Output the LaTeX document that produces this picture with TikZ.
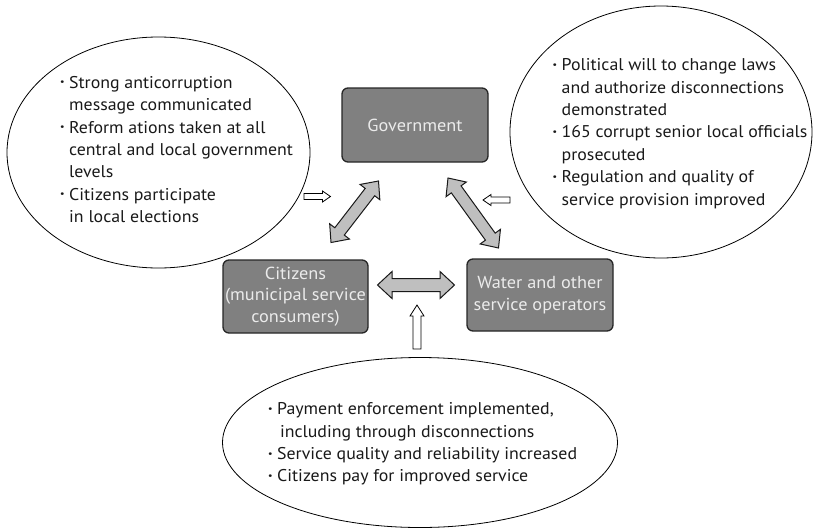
\documentclass[tikz,border=0pt]{standalone}
\usepackage{fontspec}
\setmainfont[FakeStretch=1.05]{PT Sans}
\usetikzlibrary{calc}
\begin{document}
\begin{tikzpicture}[x=1pt,y=-1pt,
  box/.style={draw=black!85,line width=1.3pt,fill=black!50,rounded corners=6pt,
    text=black!8,align=center,inner sep=0pt,font=\fontsize{17.4}{21.5}\selectfont},
  bubble/.style={draw=black,line width=0.8pt,fill=white},
  listtext/.style={align=left,inner sep=0pt,anchor=north west,text=black!90,font=\fontsize{17}{22.4}\selectfont},
  blockarrow/.style={draw=black!90,line width=1pt,fill=black!25,line join=miter},
  thinarrow/.style={draw=black,line width=0.8pt,fill=white,line join=miter}]
\newcommand\bul{\makebox[9pt][l]{\raisebox{0.5pt}{\bfseries ·}}}
\newcommand\ind{\hspace*{9pt}}
\newcommand\dblarrow[5]{%
  \coordinate (h1) at ($(#1)!#3!(#2)$);
  \coordinate (h2) at ($(#2)!#3!(#1)$);
  \draw[blockarrow] (#1) -- ($(h1)!#4!90:(#2)$) -- ($(h1)!#5!90:(#2)$)
    -- ($(h2)!#5!-90:(#1)$) -- ($(h2)!#4!-90:(#1)$) -- (#2)
    -- ($(h2)!#4!90:(#1)$) -- ($(h2)!#5!90:(#1)$)
    -- ($(h1)!#5!-90:(#2)$) -- ($(h1)!#4!-90:(#2)$) -- cycle;}
\newcommand\sglarrow[5]{% tail, tip, headlen, headhalf, shafthalf
  \coordinate (hh) at ($(#2)!#3!(#1)$);
  \draw[thinarrow] (#2) -- ($(hh)!#4!90:(#1)$) -- ($(hh)!#5!90:(#1)$)
    -- ($(#1)!#5!-90:(hh)$) -- ($(#1)!#5!90:(hh)$)
    -- ($(hh)!#5!-90:(#1)$) -- ($(hh)!#4!-90:(#1)$) -- cycle;}
\useasboundingbox (0,0) rectangle (815,528);
% ellipses
\draw[bubble] (158.5,152.5) ellipse [x radius=151.5, y radius=115.5];
\draw[bubble] (661,132) ellipse [x radius=151, y radius=126];
\draw[bubble] (420,442.5) ellipse [x radius=197.5, y radius=85];
% texts in ellipses
\node[listtext] (ltext) at (60,76) {\bul Strong anticorruption\\ \ind message communicated\\
 \bul Reform ations taken at all\\ \ind central and local government\\ \ind levels\\
 \bul Citizens participate\\ \ind in local elections};
\node[listtext] (rtext) at (552.5,58.5) {\bul Political will to change laws\\ \ind and authorize disconnections\\
 \ind demonstrated\\ \bul 165 corrupt senior local officials\\ \ind prosecuted\\
 \bul Regulation and quality of\\ \ind service provision improved};
\node[listtext] (btext) at (268,402.5) {\bul Payment enforcement implemented,\\ \ind\,including through disconnections\\
 \bul Service quality and reliability increased\\ \bul Citizens pay for improved service};
% boxes
\node[box,minimum width=146pt,minimum height=74pt] (gov) at (415,125) {Government};
\node[box,minimum width=145pt,minimum height=73pt] (cit) at (295.5,296.5) {Citizens\\(municipal service\\consumers)};
\node[box,minimum width=146pt,minimum height=72pt] (wat) at (540,295) {Water and other\\service operators};
% block arrows
\coordinate (a1) at (331,242.5); \coordinate (a2) at (378.5,181);
\coordinate (b1) at (448,178); \coordinate (b2) at (498.5,248);
\coordinate (c1) at (377.5,285); \coordinate (c2) at (454.5,285);
\dblarrow{a1}{a2}{14pt}{12.5pt}{6pt}
\dblarrow{b1}{b2}{14pt}{12.5pt}{6pt}
\dblarrow{c1}{c2}{14.5pt}{13.5pt}{6.5pt}
% thin arrows
\coordinate (s1) at (304,196.5); \coordinate (s2) at (330.5,196.5);
\coordinate (t1) at (510,200); \coordinate (t2) at (483,200);
\coordinate (u1) at (417,349); \coordinate (u2) at (417,305);
\sglarrow{s1}{s2}{8pt}{5.5pt}{3pt}
\sglarrow{t1}{t2}{8pt}{5.5pt}{3pt}
\sglarrow{u1}{u2}{11pt}{7pt}{4pt}
\end{tikzpicture}
\end{document}
